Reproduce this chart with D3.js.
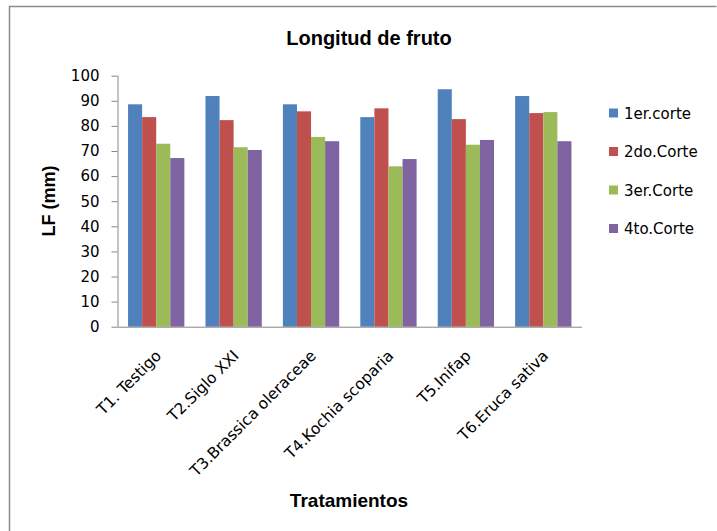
<!DOCTYPE html>
<html>
<head>
<meta charset="utf-8">
<script src="https://cdn.jsdelivr.net/npm/d3@7"></script>
<style>
  html, body { margin: 0; padding: 0; background: #fff; }
  svg { display: block; font-family: "DejaVu Sans", sans-serif; }
</style>
</head>
<body>
<svg id="chart" width="717" height="531"></svg>
<script>
// Treatments on the x axis
const categories = ["T1. Testigo", "T2.Siglo XXI", "T3.Brassica oleraceae", "T4.Kochia scoparia", "T5.Inifap", "T6.Eruca sativa"];
// Cuttings (series)
const seriesNames = ["1er.corte", "2do.Corte", "3er.Corte", "4to.Corte"];
const seriesColors = ["#4f81bd", "#c0504d", "#9bbb59", "#8064a2"];
// Fruit length (mm) per cutting, in treatment order
const corte1 = [88.6, 91.9, 88.6, 83.5, 94.6, 91.9];
const corte2 = [83.5, 82.3, 85.8, 87.0, 82.7, 85.1];
const corte3 = [72.9, 71.5, 75.6, 63.9, 72.5, 85.5];
const corte4 = [67.2, 70.4, 73.9, 66.8, 74.4, 73.9];
const yTicks = [0, 10, 20, 30, 40, 50, 60, 70, 80, 90, 100];

const seriesValues = [corte1, corte2, corte3, corte4];

const svg = d3.select("#chart");

// Chart frame
svg.append("path")
  .attr("d", "M9.5,540 V6.5 H716.5")
  .attr("fill", "none")
  .attr("stroke", "#8c8c8c")
  .attr("stroke-width", 1.5);

const plot = { left: 117.5, right: 582, top: 75.7, bottom: 326.7 };

// Category bands; bars are clustered with a gap of 150% of one bar width
const x0 = d3.scaleBand()
  .domain(categories)
  .range([plot.left, plot.right])
  .padding(0);
const bandStep = x0.step();
const barW = bandStep / (4 + 1.5);
const x1 = d3.scaleBand()
  .domain(d3.range(seriesNames.length))
  .range([barW * 0.75, barW * 4.75])
  .padding(0);

const y = d3.scaleLinear().domain([0, 100]).range([plot.bottom, plot.top]);

// Bars
const groups = svg.append("g").selectAll("g")
  .data(categories)
  .join("g")
  .attr("transform", d => `translate(${x0(d)},0)`);

groups.selectAll("rect")
  .data((d, i) => seriesValues.map((s, k) => ({ k, v: s[i] })))
  .join("rect")
  .attr("x", d => x1(d.k))
  .attr("width", x1.bandwidth())
  .attr("y", d => y(d.v))
  .attr("height", d => y(0) - y(d.v))
  .attr("fill", d => seriesColors[d.k]);

// Y axis
const yAxis = d3.axisLeft(y).tickValues(yTicks).tickSize(6).tickPadding(12);
const gy = svg.append("g")
  .attr("transform", `translate(${plot.left},0)`)
  .call(yAxis);
gy.select(".domain").attr("stroke", "#868686").attr("d", `M0.5,${plot.top}V${plot.bottom}`);
gy.selectAll(".tick line").attr("stroke", "#868686");
gy.selectAll(".tick text")
  .attr("font-size", 15)
  .attr("fill", "#000")
  .attr("font-family", "DejaVu Sans, sans-serif");

// X axis baseline and rotated category labels
const xAxis = d3.axisBottom(x0).tickSize(0).tickPadding(0);
const gx = svg.append("g")
  .attr("transform", `translate(0,${plot.bottom})`)
  .call(xAxis);
gx.select(".domain").attr("stroke", "#868686").attr("d", `M${plot.left},0.5H${plot.right}`);
gx.selectAll(".tick text")
  .attr("font-size", 15.5)
  .attr("fill", "#000")
  .attr("font-family", "DejaVu Sans, sans-serif")
  .attr("text-anchor", "end")
  .attr("dy", null)
  .attr("y", 0)
  .attr("transform", "translate(6,30) rotate(-45)");

// Title
svg.append("text")
  .attr("x", 369).attr("y", 45)
  .attr("text-anchor", "middle")
  .attr("font-family", "Liberation Sans, Arial, sans-serif")
  .attr("font-size", 20).attr("font-weight", "bold")
  .text("Longitud de fruto");

// Axis titles
svg.append("text")
  .attr("transform", "translate(55,201) rotate(-90)")
  .attr("text-anchor", "middle")
  .attr("font-family", "Liberation Sans, Arial, sans-serif")
  .attr("font-size", 18).attr("font-weight", "bold")
  .text("LF (mm)");

svg.append("text")
  .attr("x", 349).attr("y", 507)
  .attr("text-anchor", "middle")
  .attr("font-family", "Liberation Sans, Arial, sans-serif")
  .attr("font-size", 19).attr("font-weight", "bold")
  .text("Tratamientos");

// Legend
const legend = svg.append("g").selectAll("g")
  .data(seriesNames)
  .join("g")
  .attr("transform", (d, i) => `translate(609,${113 + i * 38.5})`);
legend.append("rect")
  .attr("x", 0).attr("y", -4.5).attr("width", 9).attr("height", 9)
  .attr("fill", (d, i) => seriesColors[i]);
legend.append("text")
  .attr("x", 15).attr("y", 5.5)
  .attr("font-size", 15)
  .text(d => d);
</script>
</body>
</html>
